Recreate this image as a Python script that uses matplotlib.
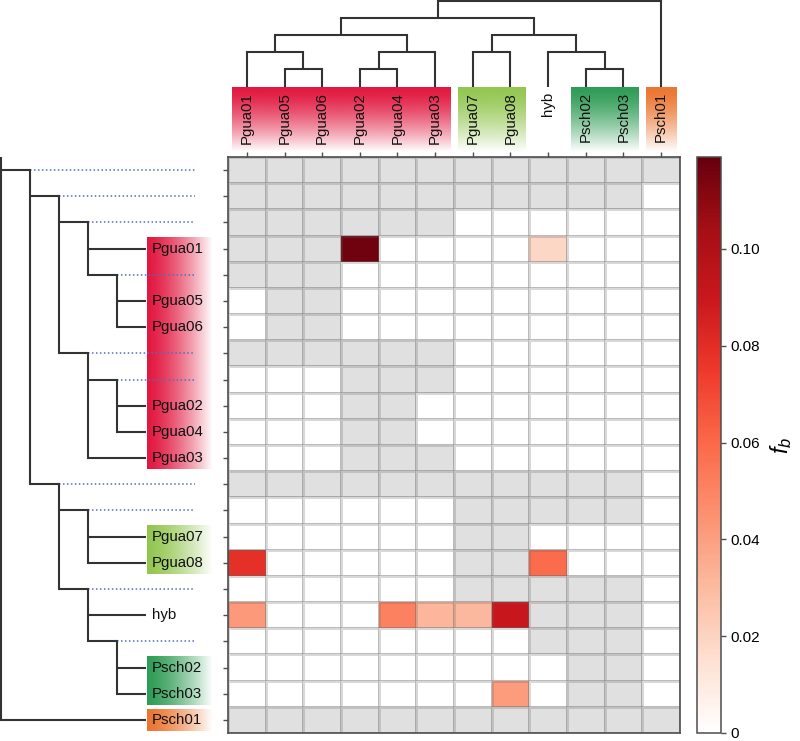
import numpy as np
import matplotlib.pyplot as plt
from matplotlib.colors import to_rgb, LinearSegmentedColormap

plt.rcParams['font.family'] = ['Liberation Sans', 'DejaVu Sans']
plt.rcParams['mathtext.fontset'] = 'custom'
plt.rcParams['mathtext.it'] = 'Liberation Sans:italic'
plt.rcParams['mathtext.rm'] = 'Liberation Sans'

# species tree, nested pairs (root = last split)
tree = (((("Pgua01", ("Pgua05", "Pgua06")), (("Pgua02", "Pgua04"), "Pgua03")),
         (("Pgua07", "Pgua08"), ("hyb", ("Psch02", "Psch03")))), "Psch01")

# label groups: first leaf, last leaf, colour
groups = [("Pgua01", "Pgua03", "#e2173f"),
          ("Pgua07", "Pgua08", "#93c650"),
          ("Psch02", "Psch03", "#2e9c55"),
          ("Psch01", "Psch01", "#ec7530")]

# f-branch values, one row per branch (tree preorder), nan = not tested (grey)
n = np.nan
fb_rows = [
    [n, n, n, n, n, n, n, n, n, n, n, n],
    [n, n, n, n, n, n, n, n, n, n, n, 0],
    [n, n, n, n, n, n, 0, 0, 0, 0, 0, 0],
    [n, n, n, 0.117, 0, 0, 0, 0, 0.019, 0, 0, 0],
    [n, n, n, 0, 0, 0, 0, 0, 0, 0, 0, 0],
    [0, n, n, 0, 0, 0, 0, 0, 0, 0, 0, 0],
    [0, n, n, 0, 0, 0, 0, 0, 0, 0, 0, 0],
    [n, n, n, n, n, n, 0, 0, 0, 0, 0, 0],
    [0, 0, 0, n, n, n, 0, 0, 0, 0, 0, 0],
    [0, 0, 0, n, n, 0, 0, 0, 0, 0, 0, 0],
    [0, 0, 0, n, n, 0, 0, 0, 0, 0, 0, 0],
    [0, 0, 0, n, n, n, 0, 0, 0, 0, 0, 0],
    [n, n, n, n, n, n, n, n, n, n, n, 0],
    [0, 0, 0, 0, 0, 0, n, n, n, n, n, 0],
    [0, 0, 0, 0, 0, 0, n, n, 0, 0, 0, 0],
    [0.079, 0, 0, 0, 0, 0, n, n, 0.059, 0, 0, 0],
    [0, 0, 0, 0, 0, 0, n, n, n, n, n, 0],
    [0.042, 0, 0, 0, 0.051, 0.032, 0.031, 0.091, n, n, n, 0],
    [0, 0, 0, 0, 0, 0, 0, 0, n, n, n, 0],
    [0, 0, 0, 0, 0, 0, 0, 0, 0, n, n, 0],
    [0, 0, 0, 0, 0, 0, 0, 0.041, 0, n, n, 0],
    [n, n, n, n, n, n, n, n, n, n, n, n],
]
vmax = 0.119
cbar_ticks = [0, 0.02, 0.04, 0.06, 0.08, 0.10]
cbar_labels = ["0", "0.02", "0.04", "0.06", "0.08", "0.10"]
reds = ["#ffffff", "#fee0d2", "#fcbba1", "#fc9272", "#fb6a4a",
        "#ef3b2c", "#cb181d", "#a50f15", "#67000d"]

W, H = 800, 741
LINE = "#333333"
DOTS = "#4d6fc4"
EDGE = "#4d4d4d"
FS = 10.8


def px(left, top, width, height):
    return [left / W, 1 - (top + height) / H, width / W, height / H]


# rows: every node except the root, in preorder
row_nodes = []


def collect(node, depth):
    if depth > 0:
        row_nodes.append((node, depth))
    if isinstance(node, tuple):
        for child in node:
            collect(child, depth + 1)


collect(tree, 0)
row_index = {id(nd): i for i, (nd, d) in enumerate(row_nodes)}
leaves = [nd for nd, d in row_nodes if isinstance(nd, str)]
col_index = {name: i for i, name in enumerate(leaves)}
nrows, ncols = len(row_nodes), len(leaves)

fig = plt.figure(figsize=(W / 100, H / 100), dpi=100)

# ---- heatmap
ax = fig.add_axes(px(228, 157, 452, 576))
cmap = LinearSegmentedColormap.from_list("reds_w", reds).with_extremes(bad="#e0e0e0")
data = np.ma.masked_invalid(np.array(fb_rows, dtype=float))
mesh = ax.pcolormesh(np.arange(ncols + 1) - 0.5, np.arange(nrows + 1) - 0.5, data,
                     cmap=cmap, vmin=0, vmax=vmax,
                     edgecolors=(0.4, 0.4, 0.4, 0.25), linewidth=0.8)
ax.set_xlim(-0.5, ncols - 0.5)
ax.set_ylim(nrows - 0.5, -0.5)
ax.set_xticks(range(ncols))
ax.set_yticks(range(nrows))
ax.set_xticklabels([])
ax.set_yticklabels([])
ax.xaxis.tick_top()
ax.tick_params(length=3.5, width=1, color=EDGE, direction="out")
for s in ax.spines.values():
    s.set_color(EDGE)
    s.set_linewidth(1.2)

# ---- colorbar
cax = fig.add_axes(px(697, 157, 24, 576))
cb = fig.colorbar(mesh, cax=cax)
cb.set_ticks(cbar_ticks)
cb.set_ticklabels(cbar_labels)
cb.outline.set_edgecolor(EDGE)
cb.outline.set_linewidth(1.1)
cax.tick_params(length=3.5, width=1, color=EDGE, labelsize=11, pad=3)
cax.set_ylabel(r"$f_b$", fontsize=17, rotation=90, labelpad=6)


def gradient(color, nsteps, vertical):
    rgb = to_rgb(color)
    t = np.linspace(0, 1, nsteps)
    alpha = 1 - t ** 1.4
    arr = np.zeros((nsteps, 1, 4)) if vertical else np.zeros((1, nsteps, 4))
    arr[..., :3] = rgb
    arr[..., 3] = alpha.reshape(arr.shape[:-1])
    return arr


# ---- left tree
lax = fig.add_axes(px(0, 157, 228, 576))
STEP = 28.8
LEAF_X = 5.0
DOT_END = 6.72


def draw_left(node, depth):
    top = row_index.get(id(node), -0.5)
    last = top
    for child in node:
        r = row_index[id(child)]
        if isinstance(child, tuple):
            lax.plot([depth, depth + 1], [r, r], color=LINE, lw=1.5, solid_capstyle="butt")
            lax.plot([depth + 1, DOT_END], [r, r], color=DOTS, lw=1.1, ls=(0, (1, 1.6)))
            draw_left(child, depth + 1)
        else:
            lax.plot([depth, LEAF_X], [r, r], color=LINE, lw=1.5, solid_capstyle="butt")
            lax.text(LEAF_X + 0.22, r, child, ha="left", va="center", fontsize=FS,
                     color="#111111", zorder=4)
        last = r
    lax.plot([depth, depth], [top, last], color=LINE, lw=1.5, solid_capstyle="projecting")


draw_left(tree, 0)
for first, last, color in groups:
    r0 = row_index[id(leaves[col_index[first]])]
    r1 = row_index[id(leaves[col_index[last]])]
    lax.imshow(gradient(color, 100, False), extent=[LEAF_X + 0.06, 7.35, r1 + 0.42, r0 - 0.42],
               aspect="auto", interpolation="bilinear", zorder=0)
lax.set_xlim(-1.5 / STEP, (228 - 1.5) / STEP)
lax.set_ylim(nrows - 0.5, -0.5)
lax.axis("off")

# ---- top tree
tax = fig.add_axes(px(228, 0, 452, 157))
TSTEP = 17.0
LEAF_Y = 5.06


def draw_top(node, depth):
    xs = []
    for child in node:
        if isinstance(child, tuple):
            cx = draw_top(child, depth + 1)
            cy = depth + 1
        else:
            cx = col_index[child]
            cy = LEAF_Y
            tax.text(cx, LEAF_Y + 0.3, child, rotation=90, ha="center", va="top",
                     fontsize=FS, color="#111111", zorder=4)
        tax.plot([cx, cx], [depth, cy], color=LINE, lw=1.5, solid_capstyle="butt")
        xs.append(cx)
    tax.plot([xs[0], xs[-1]], [depth, depth], color=LINE, lw=1.5, solid_capstyle="projecting")
    return (xs[0] + xs[-1]) / 2


draw_top(tree, 0)
for first, last, color in groups:
    c0, c1 = col_index[first], col_index[last]
    tax.imshow(gradient(color, 100, True), extent=[c0 - 0.4, c1 + 0.4, 8.88, LEAF_Y + 0.02],
               aspect="auto", interpolation="bilinear", zorder=0)
tax.set_xlim(-0.5, ncols - 0.5)
tax.set_ylim(157 / TSTEP - 0.06, -1.2 / TSTEP)
tax.axis("off")

fig.savefig("out.png", dpi=100)
